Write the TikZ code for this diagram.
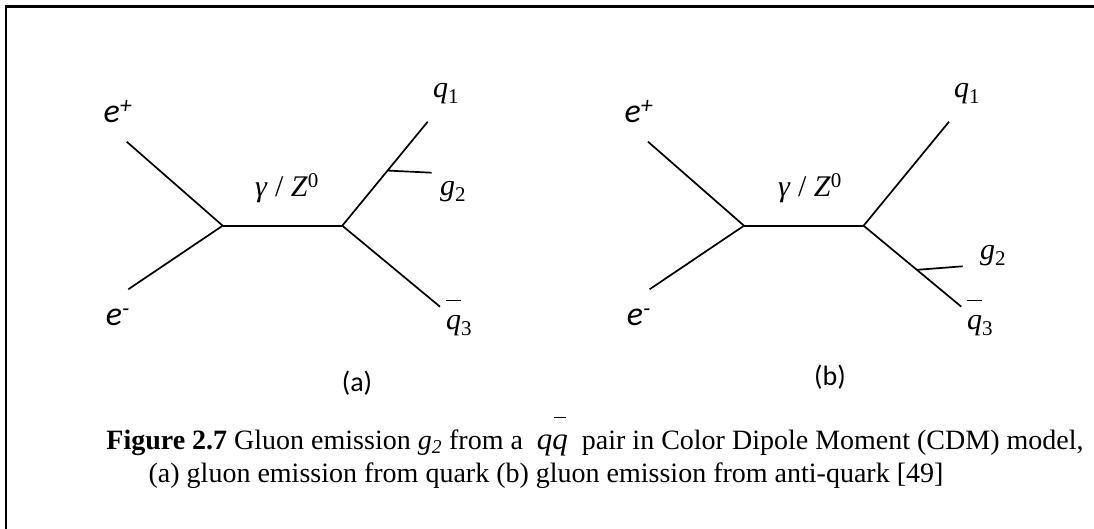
\documentclass[tikz,border=0pt]{standalone}
\usepackage{fontspec}
\setmainfont{Liberation Serif}
\newfontfamily\calibri{Carlito}
\usepackage{tikz}
\usetikzlibrary{calc}
% q with a bar set high above it
\newcommand{\barq}{\rlap{\raisebox{0.95em}{\rule{0.5em}{0.05em}}}\textit{q}}
\newcommand{\capbarq}{\rlap{\hspace{0.05em}\raisebox{1.0em}{\rule{0.38em}{1.5pt}}}\textit{q}}

\begin{document}
\begin{tikzpicture}[x=1pt,y=-1pt,line width=1.7pt,
  lbl/.style={font=\fontsize{30}{30}\selectfont,inner sep=0pt},
  elbl/.style={font=\calibri\itshape\fontsize{34}{34}\selectfont,inner sep=0pt},
  tag/.style={font=\calibri\fontsize{28}{28}\selectfont,inner sep=0pt},
  captext/.style={font=\fontsize{28}{28}\selectfont,inner sep=0pt,anchor=base}]
  \useasboundingbox (0,0) rectangle (1094,529);
  % Frame
  \draw[line width=2.4pt] (6,529) -- (6,6.5) -- (1094,6.5);
  % Vertices and line ends, diagram (a)
  \coordinate (vLa) at (222.7,225.7);
  \coordinate (vRa) at (342.3,225.7);
  \coordinate (epa) at (126.7,141.7);
  \coordinate (ema) at (128.3,289.3);
  \coordinate (q1a) at (427.7,121.7);
  \coordinate (q3a) at (440,306.7);
  \coordinate (g2a) at (431.7,172.7);
  % Vertices and line ends, diagram (b)
  \coordinate (vLb) at (744,225.7);
  \coordinate (vRb) at (863.6,225.7);
  \coordinate (epb) at (648,141.7);
  \coordinate (emb) at (649.6,289.3);
  \coordinate (q1b) at (949,121.7);
  \coordinate (q3b) at (961.3,306.7);
  \coordinate (g2b) at (962.7,266.3);
  % Lines (a)
  \draw (epa) -- (vLa);
  \draw (ema) -- (vLa);
  \draw (vLa) -- (vRa);
  \draw (vRa) -- (q1a);
  \draw (vRa) -- (q3a);
  \draw ($(vRa)!0.53!(q1a)$) -- (g2a);
  % Lines (b)
  \draw (epb) -- (vLb);
  \draw (emb) -- (vLb);
  \draw (vLb) -- (vRb);
  \draw (vRb) -- (q1b);
  \draw (vRb) -- (q3b);
  \draw ($(vRb)!0.545!(q3b)$) -- (g2b);
  % Labels (a)
  \node[elbl] (eplusA) at (118,112) {e\textsuperscript{+}};
  \node[elbl] (eminusA) at (118,317) {e\textsuperscript{-}};
  \node[lbl] (bosonA) at (287,188) {\textit{γ} / \textit{Z}\textsuperscript{0}};
  \node[lbl] (qoneA) at (446,94) {\textit{q}\textsubscript{1}};
  \node[lbl] (gtwoA) at (453,192) {\textit{g}\textsubscript{2}};
  \node[lbl] (qthreeA) at (459,318) {\barq\textsubscript{3}};
  \node[tag] (tagA) at (357,383) {(a)};
  % Labels (b)
  \node[elbl] (eplusB) at (639,112) {e\textsuperscript{+}};
  \node[elbl] (eminusB) at (639,317) {e\textsuperscript{-}};
  \node[lbl] (bosonB) at (810,188) {\textit{γ} / \textit{Z}\textsuperscript{0}};
  \node[lbl] (qoneB) at (967,94) {\textit{q}\textsubscript{1}};
  \node[lbl] (gtwoB) at (993,256) {\textit{g}\textsubscript{2}};
  \node[lbl] (qthreeB) at (980,318) {\barq\textsubscript{3}};
  \node[tag] (tagB) at (830,377) {(b)};
  % Caption
  \node[captext] (capone) at (595,449) {\textbf{Figure 2.7} Gluon emission \textit{g\textsubscript{2}} from a \ {\fontsize{31}{31}\selectfont\textit{q}\capbarq}\ \ pair in Color Dipole Moment (CDM) model,};
  \node[captext] (captwo) at (546,482) {(a) gluon emission from quark (b) gluon emission from anti-quark [49]};
\end{tikzpicture}
\end{document}
